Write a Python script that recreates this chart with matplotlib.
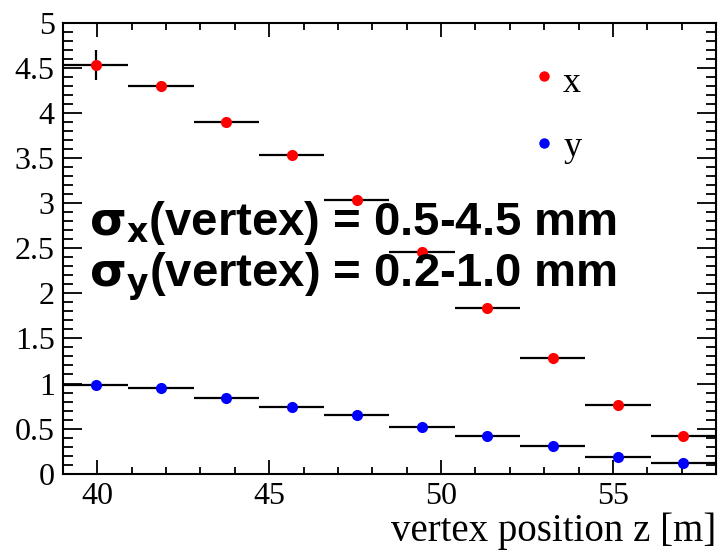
import matplotlib
matplotlib.use('Agg')
import matplotlib.pyplot as plt
import numpy as np
from matplotlib.ticker import MultipleLocator

# z bins (m): 10 bins of width 1.9 from 39 to 58
bin_edges = [39.0, 40.9, 42.8, 44.7, 46.6, 48.5, 50.4, 52.3, 54.2, 56.1, 58.0]
# vertex resolution per bin (mm)
sigma_x = [4.53, 4.30, 3.90, 3.53, 3.03, 2.46, 1.84, 1.28, 0.76, 0.42]
sigma_x_err = [0.17, 0.05, 0.02, 0.02, 0.02, 0.02, 0.02, 0.02, 0.02, 0.02]
sigma_y = [0.98, 0.95, 0.84, 0.74, 0.65, 0.52, 0.42, 0.31, 0.19, 0.12]
sigma_y_err = [0.02, 0.02, 0.02, 0.02, 0.02, 0.02, 0.02, 0.02, 0.02, 0.02]

edges = np.array(bin_edges)
centers = 0.5 * (edges[:-1] + edges[1:])
half_w = 0.5 * np.diff(edges)

serif = ['Liberation Serif', 'DejaVu Serif']
sans = ['Liberation Sans', 'DejaVu Sans']

fig = plt.figure(figsize=(7.23, 5.55), dpi=100)
ax = fig.add_axes([0.0871, 0.1465, 0.9032, 0.8125])

for vals, errs, col in [(sigma_x, sigma_x_err, '#ff0000'), (sigma_y, sigma_y_err, '#0000ff')]:
    ax.errorbar(centers, vals, xerr=half_w, yerr=errs, fmt='none',
                ecolor='black', elinewidth=1.6, capsize=0, zorder=3)
    ax.plot(centers, vals, 'o', color=col, markersize=8, markeredgewidth=0, zorder=4)

ax.set_xlim(39, 58)
ax.set_ylim(0, 5)

ax.xaxis.set_major_locator(MultipleLocator(5))
ax.xaxis.set_minor_locator(MultipleLocator(1))
ax.yaxis.set_major_locator(MultipleLocator(0.5))
ax.yaxis.set_minor_locator(MultipleLocator(0.1))

ax.tick_params(which='both', direction='in', top=True, right=True, width=1.3,
               labelsize=23, colors='black')
ax.tick_params(axis='y', which='major', length=14, pad=6)
ax.tick_params(axis='y', which='minor', length=7)
ax.tick_params(axis='x', which='major', length=10, pad=6)
ax.tick_params(axis='x', which='minor', length=5)
for lab in ax.get_xticklabels() + ax.get_yticklabels():
    lab.set_family(serif)
ax.yaxis.set_major_formatter(matplotlib.ticker.FuncFormatter(lambda v, p: f'{v:g}'))

for s in ax.spines.values():
    s.set_linewidth(1.5)

ax.set_xlabel('vertex position z [m]', fontsize=28, family=serif, loc='right', labelpad=1)

# legend drawn by hand, ROOT style
ax.plot([53.0], [4.41], 'o', color='#ff0000', markersize=7.5, markeredgewidth=0)
ax.text(53.55, 4.33, 'x', fontsize=26, family=serif, va='center', ha='left')
ax.plot([53.0], [3.67], 'o', color='#0000ff', markersize=7.5, markeredgewidth=0)
ax.text(53.55, 3.62, 'y', fontsize=26, family=serif, va='center', ha='left')

fig.text(0.123, 0.5766, r'$\mathbf{\sigma_x}$(vertex) = 0.5-4.5 mm', fontsize=34,
         fontweight='bold', family=sans, va='baseline', ha='left', zorder=2)
fig.text(0.123, 0.4829, r'$\mathbf{\sigma_y}$(vertex) = 0.2-1.0 mm', fontsize=34,
         fontweight='bold', family=sans, va='baseline', ha='left', zorder=2)

fig.savefig('out.png', dpi=100)
